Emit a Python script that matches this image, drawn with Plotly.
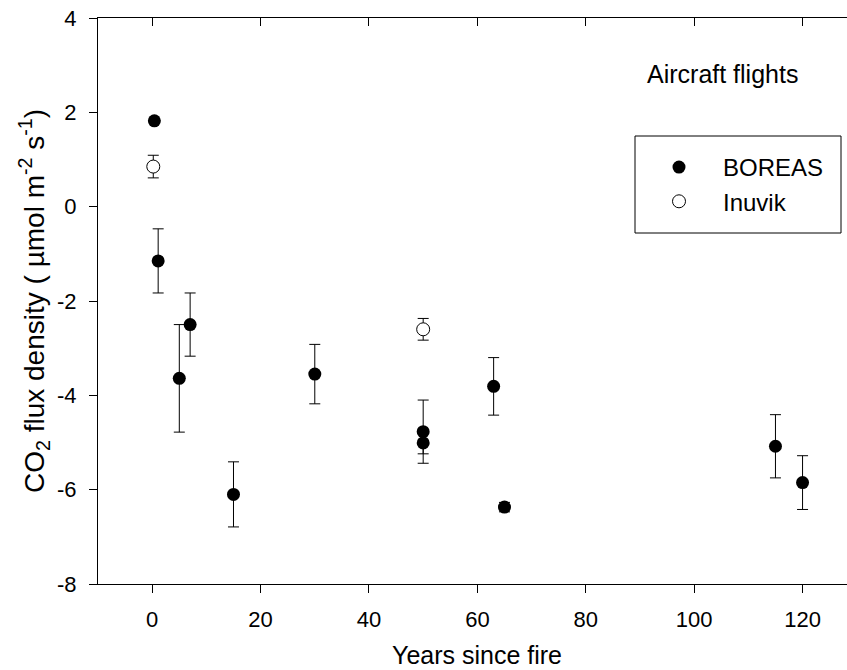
import plotly.graph_objects as go

# ---- data ----
boreas_x = [0.4, 1.1, 5.0, 7.0, 15.0, 30.0, 50.0, 50.0, 63.0, 65.0, 115.0, 120.0]
boreas_y = [1.82, -1.15, -3.64, -2.50, -6.10, -3.55, -4.77, -5.01, -3.81, -6.37, -5.08, -5.85]
boreas_err = [0.0, 0.68, 1.14, 0.67, 0.69, 0.63, 0.67, 0.23, 0.61, 0.10, 0.67, 0.57]

inuvik_x = [0.2, 50.0]
inuvik_y = [0.85, -2.60]
inuvik_err = [0.24, 0.23]

x_ticks = [0, 20, 40, 60, 80, 100, 120]
y_ticks = [-8, -6, -4, -2, 0, 2, 4]

FONT = "Arial, Liberation Sans, sans-serif"

# plot-area pixel geometry helpers (for paper-coordinate placement of decorations)
L, T, B, W = 98, 18, 584, 749
H = B - T


def px(xp):
    return (xp - L) / W


def py(yp):
    return (B - yp) / H


fig = go.Figure()
fig.add_trace(go.Scatter(
    x=boreas_x, y=boreas_y, mode="markers", name="BOREAS",
    marker=dict(symbol="circle", size=13, color="black", line=dict(width=0)),
    error_y=dict(type="data", array=boreas_err, visible=True, color="black",
                 thickness=1, width=5.5),
))
fig.add_trace(go.Scatter(
    x=inuvik_x, y=inuvik_y, mode="markers", name="Inuvik",
    marker=dict(symbol="circle", size=13, color="white",
                line=dict(width=1, color="black")),
    error_y=dict(type="data", array=inuvik_err, visible=True, color="black",
                 thickness=1, width=5.5),
))
# dummy trace to create the top axis
fig.add_trace(go.Scatter(x=[None], y=[None], xaxis="x2", showlegend=False,
                         hoverinfo="skip"))

fig.update_layout(
    width=847, height=670,
    margin=dict(l=98, r=0, t=18, b=86),
    paper_bgcolor="white", plot_bgcolor="white",
    font=dict(family=FONT, color="black", size=22),
    showlegend=True,
    legend=dict(
        x=px(635), y=py(145), xanchor="left", yanchor="top",
        borderwidth=0, bgcolor="rgba(0,0,0,0)",
        font=dict(family=FONT, size=24, color="black"),
        itemwidth=78, tracegroupgap=0,
    ),
    shapes=[
        dict(type="rect", xref="paper", yref="paper",
             x0=px(635), x1=px(841), y0=py(233), y1=py(136),
             line=dict(color="black", width=1), fillcolor="rgba(0,0,0,0)",
             layer="above"),
    ],
    xaxis=dict(
        range=[-10, 128.2], tickvals=x_ticks, ticktext=[str(v) for v in x_ticks],
        showline=True, linecolor="black", linewidth=1,
        ticks="outside", ticklen=8, tickcolor="black", tickwidth=1,
        showgrid=False, zeroline=False,
        tickfont=dict(family=FONT, size=22),
        ticklabelstandoff=8,
    ),
    xaxis2=dict(
        range=[-10, 128.2], tickvals=x_ticks, overlaying="x", side="top",
        showline=True, linecolor="black", linewidth=1,
        ticks="inside", ticklen=8, tickcolor="black", tickwidth=1,
        showticklabels=False, showgrid=False, zeroline=False,
    ),
    yaxis=dict(
        range=[-8, 4], tickvals=y_ticks, ticktext=[str(v) for v in y_ticks],
        showline=True, linecolor="black", linewidth=1,
        ticks="outside", ticklen=8, tickcolor="black", tickwidth=1,
        showgrid=False, zeroline=False,
        tickfont=dict(family=FONT, size=22),
        ticklabelstandoff=8,
    ),
    annotations=[
        dict(text="Aircraft flights", xref="paper", yref="paper",
             x=px(722), y=py(74), xanchor="center", yanchor="middle",
             showarrow=False, font=dict(family=FONT, size=25)),
        dict(text="Years since fire", xref="paper", yref="paper",
             x=px(477), y=py(655), xanchor="center",
             yanchor="middle", showarrow=False, font=dict(family=FONT, size=25)),
        dict(text="CO<sub>2</sub> flux density ( µmol m<sup>-2</sup> s<sup>-1</sup>)",
             xref="paper", yref="paper", x=px(34), y=0.5,
             xanchor="center", yanchor="middle", textangle=-90,
             showarrow=False, font=dict(family=FONT, size=28)),
    ],
)

fig.write_html("out.html")
